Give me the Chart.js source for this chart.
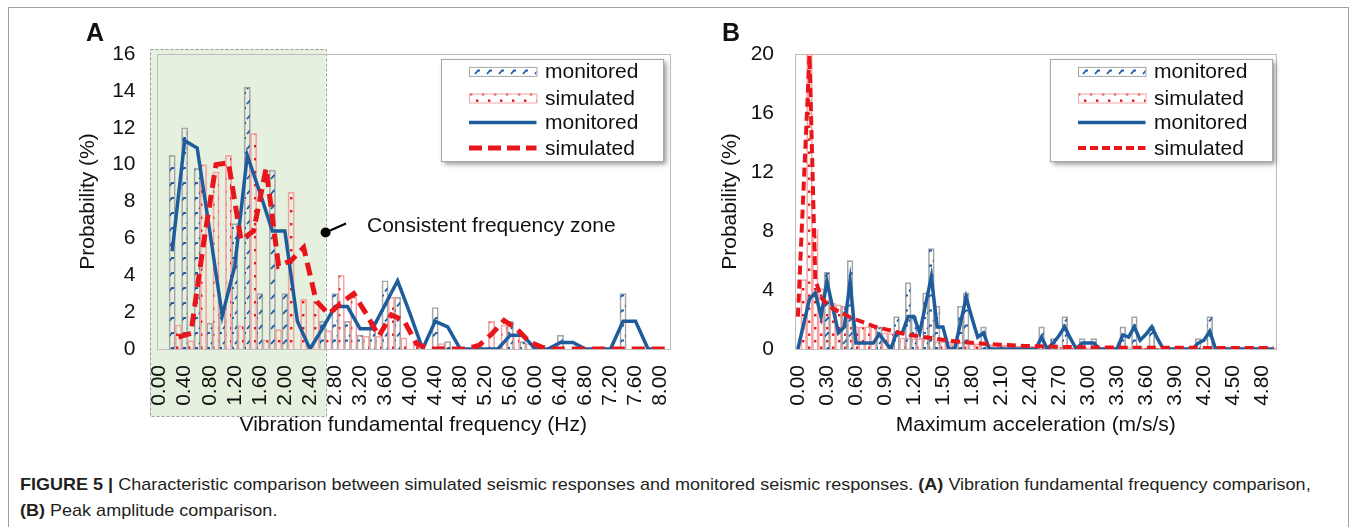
<!DOCTYPE html>
<html><head><meta charset="utf-8">
<script src="https://cdn.jsdelivr.net/npm/chart.js@4.4.0/dist/chart.umd.min.js"></script>
<style>
html,body{margin:0;padding:0;background:#fff;}
body{width:1356px;height:527px;position:relative;overflow:hidden;font-family:'Liberation Sans',Arial,sans-serif;}
#frame{position:absolute;left:8px;top:7px;width:1341px;height:600px;border:1px solid #a0a0a0;box-sizing:border-box;}
#wrapA{position:absolute;left:0;top:0;width:680px;height:440px;}
#wrapB{position:absolute;left:680px;top:0;width:676px;height:440px;}
.letter{position:absolute;top:18px;font-weight:bold;font-size:25px;color:#111;}
.cap{position:absolute;left:20px;font-size:17px;color:#231f20;white-space:nowrap;transform-origin:0 50%;}
</style></head>
<body>
<div id="frame"></div>
<div id="wrapA"><canvas id="cA" width="680" height="440"></canvas></div>
<div id="wrapB"><canvas id="cB" width="676" height="440"></canvas></div>
<div class="letter" style="left:86px">A</div>
<div class="letter" style="left:722px">B</div>
<div class="cap" id="cap1" style="top:475px"><b>FIGURE 5 |</b> Characteristic comparison between simulated seismic responses and monitored seismic responses. <b>(A)</b> Vibration fundamental frequency comparison,</div>
<div class="cap" id="cap2" style="top:501px"><b>(B)</b> Peak amplitude comparison.</div>
<script>
// ---------- Panel A data (frequency, Hz) ----------
const freqA = ["0.00","0.10","0.20","0.30","0.40","0.50","0.60","0.70","0.80","0.90",
"1.00","1.10","1.20","1.30","1.40","1.50","1.60","1.70","1.80","1.90",
"2.00","2.10","2.20","2.30","2.40","2.50","2.60","2.70","2.80","2.90",
"3.00","3.10","3.20","3.30","3.40","3.50","3.60","3.70","3.80","3.90",
"4.00","4.10","4.20","4.30","4.40","4.50","4.60","4.70","4.80","4.90",
"5.00","5.10","5.20","5.30","5.40","5.50","5.60","5.70","5.80","5.90",
"6.00","6.10","6.20","6.30","6.40","6.50","6.60","6.70","6.80","6.90",
"7.00","7.10","7.20","7.30","7.40","7.50","7.60","7.70","7.80","7.90",
"8.00","8.10"];
// monitored histogram at 0.0, 0.2, ... 8.0 Hz
const monitoredBarA = [0,10.5,12.0,9.8,1.4,2.0,6.8,14.2,3.0,9.7,3.0,0,0,1.5,3.0,1.5,0.75,1.5,3.7,2.8,0,0,2.25,0.4,0,0,0,0,1.5,0.4,0,0,0.75,0,0,0,0,3.0,0,0,0];
// simulated histogram at 0.1, 0.3, ... 8.1 Hz
const simulatedBarA = [0,1.3,0.45,10.0,9.6,10.5,1.25,11.7,0.5,1.05,8.5,2.7,2.6,1.0,4.0,2.8,0.7,0.7,2.8,0.6,0.4,0,0.3,0,0,0.3,1.5,1.3,0.8,0.3,0,0,0,0,0,0,0,0,0,0,0];
const monitoredLineA = [null,5.3,11.3,10.9,6.4,1.8,4.5,10.5,8.5,6.4,6.4,1.5,0,1.1,2.3,2.3,1.1,1.1,2.4,3.7,1.9,0,1.5,1.2,0,0,0,0,0.75,0.75,0,0,0.35,0.35,0,0,0,1.5,1.5,0,0];
const simulatedLineA = [null,0.65,0.85,5.7,10.0,10.1,5.9,6.4,9.8,4.5,4.8,5.5,2.6,1.9,2.5,3.0,1.9,0.7,1.85,1.55,0.3,0,0,0,0,0.2,0.8,1.55,1.1,0.4,0.1,0,0,0,0,0,0,0,0,0,0];
const ticksA = [0,2,4,6,8,10,12,14,16];

// ---------- Panel B data (maximum acceleration, m/s/s) ----------
const accB = ["0.00","0.06","0.12","0.18","0.24","0.30","0.36","0.42","0.48","0.54",
"0.60","0.66","0.72","0.78","0.84","0.90","0.96","1.02","1.08","1.14",
"1.20","1.26","1.32","1.38","1.44","1.50","1.56","1.62","1.68","1.74",
"1.80","1.86","1.92","1.98","2.04","2.10","2.16","2.22","2.28","2.34",
"2.40","2.46","2.52","2.58","2.64","2.70","2.76","2.82","2.88","2.94",
"3.00","3.06","3.12","3.18","3.24","3.30","3.36","3.42","3.48","3.54",
"3.60","3.66","3.72","3.78","3.84","3.90","3.96","4.02","4.08","4.14",
"4.20","4.26","4.32","4.38","4.44","4.50","4.56","4.62","4.68","4.74",
"4.80","4.86","4.92"];
const monitoredBarB = [0,0,0,0,0,5.2,0,0,2.9,6.0,
0,0,0,0,1.5,0,0,2.2,0,4.5,
2.2,0,3.8,6.8,2.9,0,0,0,2.9,3.8,
0,0,1.5,0,0,0,0,0,0,0,
0,0,1.5,0,0.7,0,2.2,0,0,0.7,
0,0.7,0,0,0,0,1.5,0,2.2,0,
0,1.5,0,0,0,0,0,0,0,0.7,
0,2.2,0,0,0,0,0,0,0,0,
0,0,0];
const simulatedBarB = [0,4.7,20.0,8.1,4.1,3.3,3.1,3.0,2.9,2.0,
1.5,1.5,1.5,1.5,1.1,1.1,1.05,1.0,0.75,0.75,
0.7,0.7,0.7,0.7,0.5,0.5,0.5,0.45,0.45,0.4,
0.4,0.35,0.35,0.3,0.3,0.25,0.25,0.25,0.2,0.2,
0.2,0.2,0.15,0.15,0.15,0.15,0.15,0.1,0.1,0.1,
0.1,0.1,0.1,0.1,0.1,0.1,0.1,0.1,0.1,0.1,
0.05,0.05,0.05,0.05,0.05,0.05,0.05,0.05,0.05,0.05,
0.05,0.05,0.05,0.05,0.05,0.05,0.05,0.05,0.05,0.05,
0.05,0.05,0.05];
const monitoredLineB = [0,1.7,3.4,3.8,2.2,4.6,2.8,1.1,1.5,4.6,
0.4,0.4,0.4,0.4,1.0,0.5,0,1.1,1.1,2.2,
2.2,1.1,3.0,4.9,1.5,1.5,0,0,1.7,3.5,
2.1,0.8,1.1,0,0,0,0,0,0,0,
0,0,0.8,0,0.4,0.9,1.5,0.7,0,0.4,
0.4,0.4,0,0,0,0,0.95,0.8,1.5,0.6,
1.0,1.5,0.7,0,0,0,0,0,0,0.4,
0.6,1.2,0,0,0,0,0,0,0,0,
0,0,0];
const simulatedLineB = [2.2,11.1,19.9,4.7,3.5,3.0,2.75,2.55,2.35,2.15,
2.0,1.85,1.7,1.55,1.45,1.35,1.25,1.15,1.05,0.98,
0.92,0.86,0.8,0.74,0.68,0.63,0.58,0.53,0.49,0.45,
0.42,0.39,0.36,0.33,0.31,0.29,0.27,0.25,0.23,0.21,
0.2,0.19,0.18,0.17,0.16,0.15,0.14,0.13,0.12,0.12,
0.11,0.11,0.1,0.1,0.1,0.1,0.09,0.09,0.09,0.09,
0.08,0.08,0.08,0.08,0.08,0.08,0.08,0.08,0.08,0.08,
0.07,0.07,0.07,0.07,0.07,0.07,0.07,0.07,0.07,0.07,
0.07,0.06,0.06];
const ticksB = [0,4,8,12,16,20];

// ---------- styles ----------
const FONT = "'Liberation Sans', Arial, sans-serif";
Chart.defaults.font.family = FONT;
const BLUE = '#1f5c9c', RED = '#e8161b', GREY = '#a6a6a6', PINK = '#f4a3a3';

function monPattern(ctx){
  const c=document.createElement('canvas'); c.width=12; c.height=15;
  const g=c.getContext('2d');
  g.strokeStyle='#1f5aa6'; g.lineWidth=1.8;
  g.beginPath(); g.moveTo(1,6.5); g.lineTo(4,3); g.lineTo(6,3); g.stroke();
  g.beginPath(); g.moveTo(7,14); g.lineTo(10,10.5); g.lineTo(12,10.5); g.stroke();
  return ctx.createPattern(c,'repeat');
}
function simPattern(ctx){
  const c=document.createElement('canvas'); c.width=12; c.height=13;
  const g=c.getContext('2d');
  g.fillStyle='#e3191f';
  g.fillRect(2,2,2.4,2.4); g.fillRect(8,8.5,2.4,2.4);
  return ctx.createPattern(c,'repeat');
}

function onEven(arr,n){const o=new Array(n).fill(null); arr.forEach((v,k)=>{o[2*k]=v;}); return o;}
function onOdd(arr,n){const o=new Array(n).fill(null); arr.forEach((v,k)=>{o[2*k+1]=v;}); return o;}

const framePlugin = {
  id:'frame',
  beforeDatasetsDraw(chart){
    const {ctx, chartArea:a} = chart;
    ctx.save(); ctx.strokeStyle='#bdbdbd'; ctx.lineWidth=1;
    ctx.strokeRect(Math.round(a.left)+0.5, Math.round(a.top)+0.5, Math.round(a.right-a.left)-1, Math.round(a.bottom-a.top));
    ctx.restore();
  }
};

function legendPlugin(x0, y0, sw){
  return {
    id:'customLegend',
    afterDraw(chart){
      const ctx = chart.ctx, ds = chart.data.datasets;
      const w=222, h=102;
      ctx.save();
      ctx.shadowColor='rgba(0,0,0,0.45)'; ctx.shadowBlur=5; ctx.shadowOffsetX=3; ctx.shadowOffsetY=3;
      ctx.fillStyle='#fff'; ctx.fillRect(x0,y0,w,h);
      ctx.restore();
      ctx.save();
      ctx.strokeStyle='#a8a8a8'; ctx.lineWidth=1; ctx.strokeRect(x0+0.5,y0+0.5,w,h);
      const rows=[12.4,39,63.4,89];
      const sx0=x0+28, sx1=x0+95.5;
      for(let r=0;r<2;r++){
        const d=ds[r], yc=y0+rows[r];
        ctx.fillStyle=d.backgroundColor; ctx.fillRect(sx0, yc-4.5, sx1-sx0, 9);
        ctx.strokeStyle=d.borderColor; ctx.lineWidth=1; ctx.strokeRect(sx0+0.5, yc-4.5+0.5, sx1-sx0, 9);
      }
      for(let r=2;r<4;r++){
        const d=ds[r], yc=y0+rows[r];
        ctx.strokeStyle=d.borderColor; ctx.lineWidth=d.borderWidth;
        ctx.setLineDash(sw[r]||[]);
        ctx.beginPath(); ctx.moveTo(sx0, yc); ctx.lineTo(sx1, yc); ctx.stroke();
        ctx.setLineDash([]);
      }
      ctx.fillStyle='#111'; ctx.font='21px '+FONT; ctx.textBaseline='middle'; ctx.textAlign='left';
      for(let r=0;r<4;r++){ ctx.fillText(ds[r].label, x0+104, y0+rows[r]+1); }
      ctx.restore();
    }
  };
}

function zoneRight(chart){
  const x = chart.scales.x;
  return x.getPixelForValue(26) + (x.getPixelForValue(1)-x.getPixelForValue(0))/2;
}
const zonePlugin = {
  id:'zone',
  beforeDraw(chart){
    const {ctx, chartArea:a} = chart;
    const left=a.left-6.5, top=a.top-5, right=zoneRight(chart), bottom=416;
    ctx.save();
    ctx.fillStyle='#e5f0df'; ctx.fillRect(left,top,right-left,bottom-top);
    ctx.strokeStyle='#9a9a9a'; ctx.lineWidth=1; ctx.setLineDash([3,2]);
    ctx.strokeRect(Math.round(left)+0.5, Math.round(top)+0.5, Math.round(right-left), Math.round(bottom-top));
    ctx.restore();
  },
  afterDraw(chart){
    const ctx = chart.ctx, right = zoneRight(chart);
    ctx.save();
    ctx.fillStyle='#000'; ctx.strokeStyle='#000'; ctx.lineWidth=2;
    ctx.beginPath(); ctx.moveTo(right, 232.5); ctx.lineTo(346, 223.5); ctx.stroke();
    ctx.beginPath(); ctx.arc(right, 232.5, 5, 0, Math.PI*2); ctx.fill();
    ctx.font='21px '+FONT; ctx.textBaseline='alphabetic'; ctx.fillStyle='#111';
    ctx.fillText('Consistent frequency zone', 367, 231.5);
    ctx.restore();
  }
};

function opts(c){
  return {
    responsive:false, animation:false,
    layout:{padding:{left:c.padL, top:54, right:c.padR, bottom:0}},
    plugins:{legend:{display:false}, tooltip:{enabled:false}},
    scales:{
      x:{type:'category', offset:true, grid:{display:false}, border:{display:false},
        ticks:{autoSkip:false, minRotation:90, maxRotation:90, padding:8, color:'#111', font:{size:21},
          callback:(v,i)=> (i % c.every === 0 ? c.labels[i] : '')},
        title:{display:true, text:c.xTitle, color:'#111', font:{size:21}, padding:{top:0,bottom:2.4}},
        afterFit:s=>{s.height=91; s.paddingLeft=0; s.paddingRight=0;}},
      y:{min:0, max:c.ymax, grid:{display:false}, border:{display:false},
        afterBuildTicks:s=>{s.ticks=c.yt.map(v=>({value:v}));},
        ticks:{padding:13, color:'#111', font:{size:21}},
        title:{display:true, text:'Probability (%)', color:'#111', font:{size:21}, padding:{top:3.4,bottom:0}},
        afterFit:s=>{s.width=c.yW; s.paddingTop=0; s.paddingBottom=0;}}
    }
  };
}

// ---------- Chart A ----------
const ctxA = document.getElementById('cA').getContext('2d');
const nA = freqA.length;
new Chart(ctxA, {
  type:'bar',
  data:{labels:freqA, datasets:[
    {type:'bar', label:'monitored', data:onEven(monitoredBarA,nA), backgroundColor:monPattern(ctxA), borderColor:GREY, borderWidth:1, grouped:false, barPercentage:1, categoryPercentage:1, order:3},
    {type:'bar', label:'simulated', data:onOdd(simulatedBarA,nA), backgroundColor:simPattern(ctxA), borderColor:PINK, borderWidth:1, grouped:false, barPercentage:1, categoryPercentage:1, order:2},
    {type:'line', label:'monitored', data:onEven(monitoredLineA,nA), borderColor:BLUE, borderWidth:3.5, pointRadius:0, spanGaps:true, tension:0, order:1},
    {type:'line', label:'simulated', data:onOdd(simulatedLineA,nA), borderColor:RED, borderWidth:5, borderDash:[13,7], pointRadius:0, spanGaps:true, tension:0, order:0}
  ]},
  options:opts({padL:72, padR:10, yW:84.5, ymax:16, yt:ticksA, every:4, labels:freqA, xTitle:'Vibration fundamental frequency (Hz)'}),
  plugins:[zonePlugin, framePlugin, legendPlugin(441, 59, {3:[13,6]})]
});

// ---------- Chart B ----------
const ctxB = document.getElementById('cB').getContext('2d');
new Chart(ctxB, {
  type:'bar',
  data:{labels:accB, datasets:[
    {type:'bar', label:'monitored', data:monitoredBarB, backgroundColor:monPattern(ctxB), borderColor:GREY, borderWidth:1, grouped:false, barPercentage:1, categoryPercentage:1, order:2},
    {type:'bar', label:'simulated', data:simulatedBarB, backgroundColor:simPattern(ctxB), borderColor:PINK, borderWidth:1, grouped:false, barPercentage:1, categoryPercentage:1, order:3},
    {type:'line', label:'monitored', data:monitoredLineB, borderColor:BLUE, borderWidth:3.5, pointRadius:0, tension:0, order:1},
    {type:'line', label:'simulated', data:simulatedLineB, borderColor:RED, borderWidth:4, borderDash:[9,5], pointRadius:0, tension:0, order:0}
  ]},
  options:opts({padL:34, padR:79.5, yW:81, ymax:20, yt:ticksB, every:5, labels:accB, xTitle:'Maximum acceleration (m/s/s)'}),
  plugins:[framePlugin, legendPlugin(370, 59, {3:[8,4]})]
});

(function(){
  const c1=document.getElementById('cap1'), c2=document.getElementById('cap2');
  const s = 1291 / c1.scrollWidth;
  c1.style.transform='scaleX('+s+')'; c2.style.transform='scaleX('+s+')';
})();
</script>
</body></html>
